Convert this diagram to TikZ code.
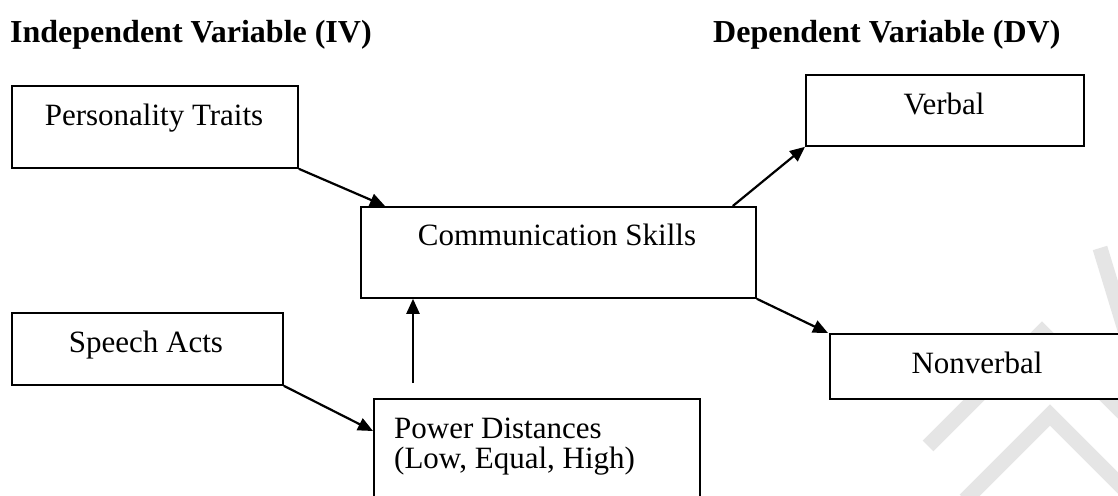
\documentclass[tikz,border=0pt]{standalone}
\usepackage{fontspec}
\setmainfont{Liberation Serif}
\usetikzlibrary{arrows.meta}
\begin{document}
\begin{tikzpicture}[x=1pt,y=-1pt,
  box/.style={draw=black,line width=1.8pt,fill=white,inner sep=0pt,anchor=north west},
  lbl/.style={inner sep=0pt,anchor=base,font=\fontsize{31}{37}\selectfont},
  ttl/.style={inner sep=0pt,anchor=base west,font=\fontsize{32}{38}\selectfont\bfseries},
  arr/.style={line width=2.2pt,-{Triangle[length=15pt,width=13pt]}},
  wm/.style={draw=black!10,line width=15pt}]
\useasboundingbox[fill=white] (0,0) rectangle (1118,495);
% faint watermark strokes
\draw[wm] (1100,248) -- (1125,330);
\draw[wm] (928,446) -- (1042,332) -- (1125,415);
\draw[wm] (965,500) -- (1050,415) -- (1125,490);
% titles
\node[ttl] (iv) at (10,43) {Independent Variable (IV)};
\node[ttl] (dv) at (713,43) {Dependent Variable (DV)};
% boxes
\node[box,minimum width=286pt,minimum height=82pt] (pt) at (11,85) {};
\node[lbl] (ptt) at (154,125) {Personality Traits};
\node[box,minimum width=278pt,minimum height=71pt] (vb) at (805,74) {};
\node[lbl] (vbt) at (944,114) {Verbal};
\node[box,minimum width=395pt,minimum height=91pt] (cs) at (360,206) {};
\node[lbl] (cst) at (557,245) {Communication Skills};
\node[box,minimum width=271pt,minimum height=72pt] (sa) at (11,312) {};
\node[lbl] (sat) at (146,352) {Speech Acts};
\node[box,minimum width=300pt,minimum height=65pt] (nv) at (829,333) {};
\node[lbl] (nvt) at (977,373) {Nonverbal};
\node[box,minimum width=326pt,minimum height=110pt] (pd) at (373,398) {};
\node[lbl,anchor=base west] (pd1) at (394,438) {Power Distances};
\node[lbl,anchor=base west] (pd2) at (394,468) {(Low, Equal, High)};
\useasboundingbox (0,0) rectangle (1118,495);
% connectors
\coordinate (pdt) at (413,383);
\draw[arr] (pt.south east) -- ([xshift=25pt]cs.north west);
\draw[arr] ([xshift=-24pt]cs.north east) -- (vb.south west);
\draw[arr] (cs.south east) -- ([xshift=-1pt]nv.north west);
\draw[arr] (sa.south east) -- ([yshift=-33pt]pd.north west);
\draw[arr] (pdt) -- (cs.south -| pdt);
\end{tikzpicture}
\end{document}
